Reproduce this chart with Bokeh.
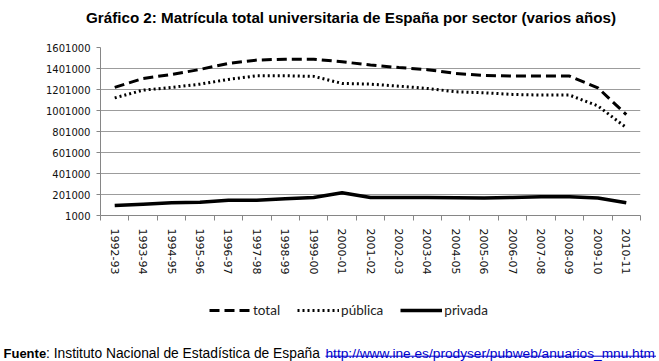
from bokeh.plotting import figure
from bokeh.layouts import column
from bokeh.models import (FixedTicker, NumeralTickFormatter, Label, Legend,
                          LegendItem, ColumnDataSource)
from bokeh.embed import file_html
from bokeh.resources import INLINE
import numpy as np

years = ["1992-93", "1993-94", "1994-95", "1995-96", "1996-97", "1997-98",
         "1998-99", "1999-00", "2000-01", "2001-02", "2002-03", "2003-04",
         "2004-05", "2005-06", "2006-07", "2007-08", "2008-09", "2009-10",
         "2010-11"]
total = [1221000, 1306000, 1344000, 1392000, 1449000, 1481000, 1490000,
         1490000, 1465000, 1434000, 1410000, 1390000, 1354000, 1335000,
         1329000, 1329000, 1329000, 1217000, 962000]
publica = [1121000, 1195000, 1221000, 1252000, 1297000, 1332000, 1332000,
           1326000, 1259000, 1252000, 1233000, 1211000, 1179000, 1170000,
           1154000, 1148000, 1148000, 1045000, 838000]
privada = [96000, 109000, 122000, 128000, 147000, 147000, 160000, 173000,
           218000, 173000, 173000, 173000, 170000, 167000, 173000, 180000,
           180000, 167000, 122000]
y_ticks = [1000, 201000, 401000, 601000, 801000, 1001000, 1201000, 1401000,
           1601000]
series_names = ["total", "pública", "privada"]

title_text = "Gráfico 2: Matrícula total universitaria de España por sector (varios años)"
source_bold = "Fuente"
source_text = ": Instituto Nacional de Estadística de España "
source_url = "http://www.ine.es/prodyser/pubweb/anuarios_mnu.htm"

W = 659
TOP_H, MAIN_H, BOT_H = 30, 255, 76
L, R, T, B = 100, 19, 17, 70

styles = [dict(line_color="black", line_width=3, line_dash="10 5"),
          dict(line_color="black", line_width=3, line_dash="2 3"),
          dict(line_color="black", line_width=3.5)]

n = len(years)
xpos = np.arange(n) + 0.5
src = ColumnDataSource(dict(x=xpos, total=total, publica=publica, privada=privada))
cols = ["total", "publica", "privada"]


def blank(h):
    f = figure(width=W, height=h, output_backend="svg", toolbar_location=None,
               title=None, x_range=(0, W), y_range=(0, h), min_border=0,
               frame_align=False, x_axis_location=None, y_axis_location=None)
    f.grid.grid_line_color = None
    f.outline_line_color = None
    f.background_fill_color = "white"
    f.border_fill_color = "white"
    return f


# ---- title strip
top = blank(TOP_H)
top.add_layout(Label(x=350.5, y=TOP_H - 17.3, text=title_text,
                     text_align="center", text_baseline="alphabetic",
                     text_font="Liberation Sans", text_font_style="bold",
                     text_font_size="15.2px", text_color="black"))

# ---- main chart
p = figure(width=W, height=MAIN_H, output_backend="svg", toolbar_location=None,
           title=None, x_range=(0, n), y_range=(y_ticks[0], y_ticks[-1]),
           min_border_left=L, min_border_right=R, min_border_top=T,
           min_border_bottom=B, frame_align=False)
p.outline_line_color = None
p.background_fill_color = "white"
p.border_fill_color = "white"

for col, st in zip(cols, styles):
    p.line("x", col, source=src, **st)

p.xgrid.grid_line_color = None
p.ygrid.grid_line_color = "#9c9c9c"
p.ygrid.ticker = FixedTicker(ticks=y_ticks)

p.yaxis.ticker = FixedTicker(ticks=y_ticks)
p.yaxis.formatter = NumeralTickFormatter(format="0")
p.yaxis.axis_line_color = "#868686"
p.yaxis.major_tick_line_color = "#868686"
p.yaxis.major_tick_out = 4
p.yaxis.major_tick_in = 0
p.yaxis.minor_tick_line_color = None
p.yaxis.major_label_standoff = 6
p.yaxis.major_label_text_font = "DejaVu Sans"
p.yaxis.major_label_text_font_size = "10px"
p.yaxis.major_label_text_color = "#111111"

p.xaxis.ticker = FixedTicker(ticks=list(xpos), minor_ticks=list(range(n + 1)))
p.xaxis.major_label_overrides = {float(x): y for x, y in zip(xpos, years)}
p.xaxis.major_label_orientation = "vertical"
p.xaxis.axis_line_color = "#868686"
p.xaxis.major_tick_line_color = None
p.xaxis.major_tick_out = 0
p.xaxis.major_tick_in = 0
p.xaxis.minor_tick_line_color = "#868686"
p.xaxis.minor_tick_out = 5
p.xaxis.minor_tick_in = 0
p.xaxis.major_label_standoff = 8
p.xaxis.major_label_text_font = "DejaVu Sans"
p.xaxis.major_label_text_font_size = "11px"
p.xaxis.major_label_text_color = "#111111"

# ---- legend + source strip
bot = blank(BOT_H)
# legend samples: same series, drawn far outside this strip's visible range
proxies = [bot.line("x", col, source=src, **st) for col, st in zip(cols, styles)]
legend = Legend(items=[LegendItem(label=nm, renderers=[r])
                       for nm, r in zip(series_names, proxies)],
                orientation="horizontal", location=(209, 43),
                glyph_width=42, glyph_height=16, label_height=16,
                label_standoff=2, spacing=17, padding=0, margin=0,
                border_line_color=None, background_fill_alpha=0,
                label_text_font="Lato", label_text_font_size="13.5px",
                label_text_color="#222222")
bot.add_layout(legend, "center")

fb = 8
x_url = 325
url_w = 330.5
bot.add_layout(Label(x=3, y=fb, text=source_bold, text_align="left",
                     text_baseline="alphabetic", text_font="Liberation Sans",
                     text_font_style="bold", text_font_size="13px",
                     text_color="black"))
bot.add_layout(Label(x=45.6, y=fb, text=source_text, text_align="left",
                     text_baseline="alphabetic", text_font="Liberation Sans",
                     text_font_size="13.8px", text_color="black"))
bot.add_layout(Label(x=x_url, y=fb, text=source_url, text_align="left",
                     text_baseline="alphabetic", text_font="Liberation Sans",
                     text_font_size="13.7px", text_color="#0000cc"))
bot.segment(x0=[x_url], y0=[5.3], x1=[x_url + url_w], y1=[5.3],
            line_color="#0000cc", line_width=1)

layout = column(top, p, bot, spacing=0)
open("out.html", "w").write(file_html(layout, INLINE))
